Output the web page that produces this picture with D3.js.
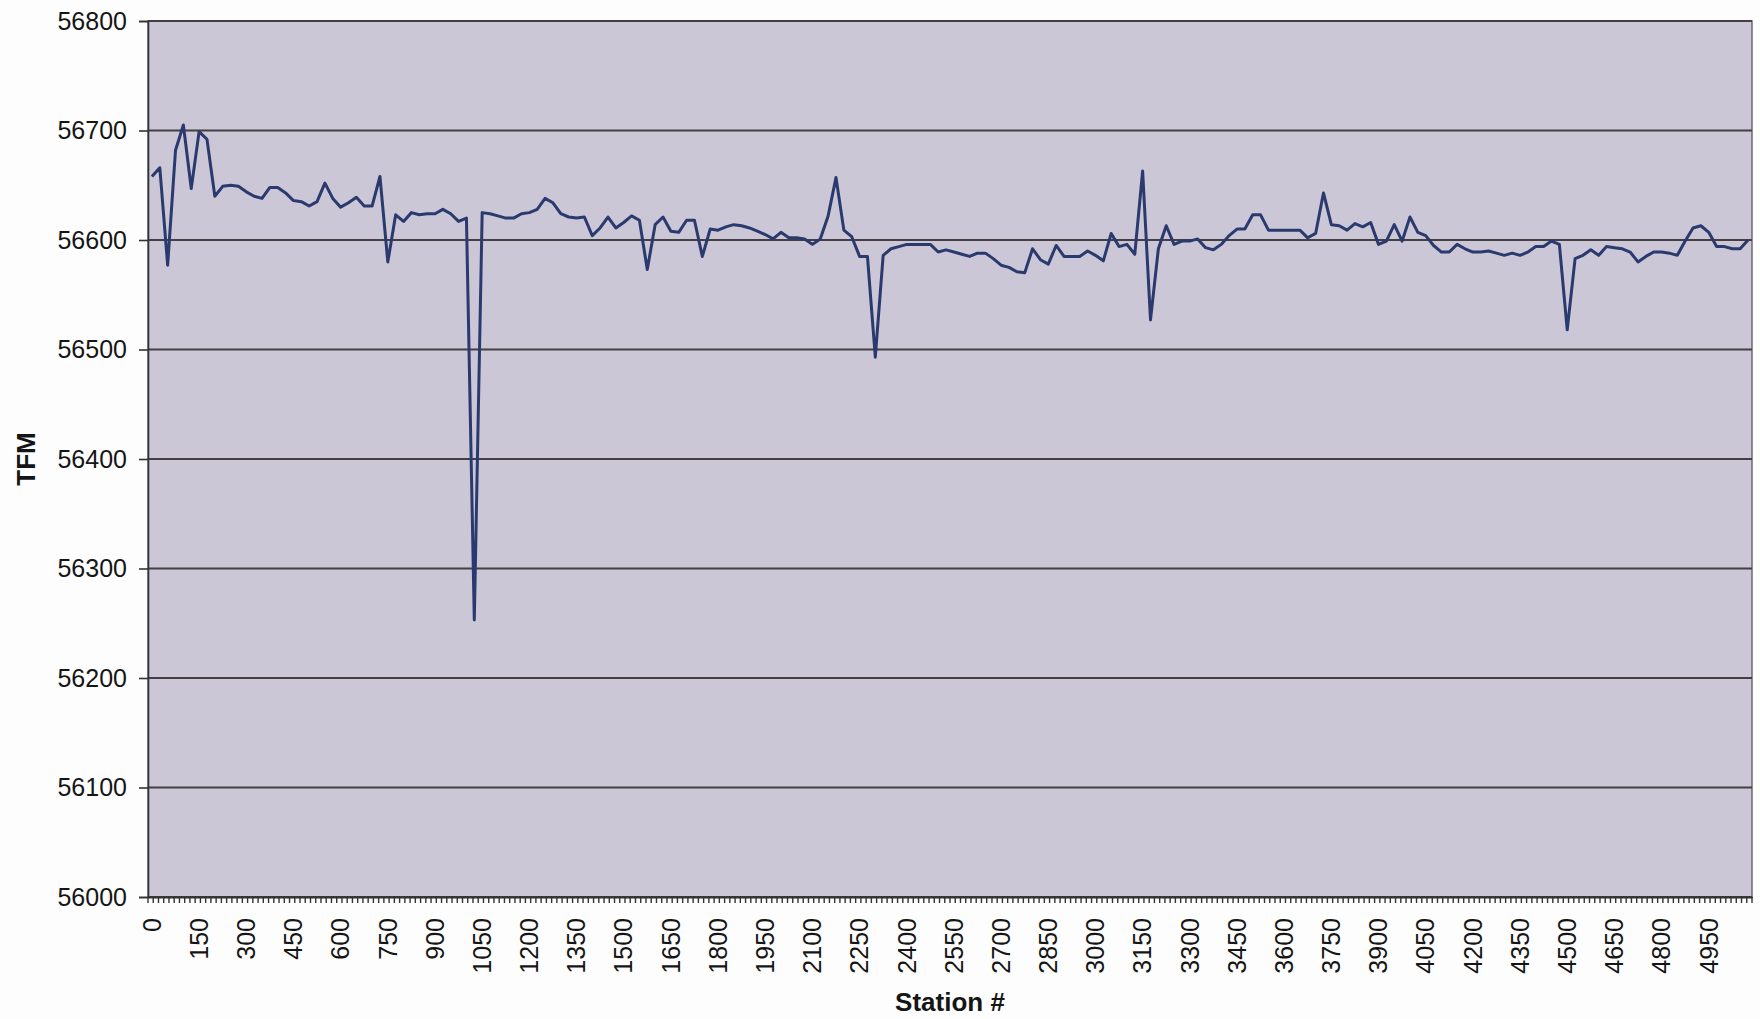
<!DOCTYPE html>
<meta charset="utf-8">
<script src="https://d3js.org/d3.v7.min.js"></script>
<style>
  body { margin: 0; background: #fdfdfd; }
  text { font-family: "Liberation Sans", Arial, sans-serif; fill: #151515; }
</style>
<div id="chart"></div>
<script>

// station numbers (category axis)
var stations = [
  0, 25, 50, 75, 100, 125, 150, 175, 200, 225, 250, 275, 300, 325, 350, 375, 400, 425, 450, 475,
  500, 525, 550, 575, 600, 625, 650, 675, 700, 725, 750, 775, 800, 825, 850, 875, 900, 925, 950, 975,
  1000, 1025, 1050, 1075, 1100, 1125, 1150, 1175, 1200, 1225, 1250, 1275, 1300, 1325, 1350, 1375, 1400, 1425, 1450, 1475,
  1500, 1525, 1550, 1575, 1600, 1625, 1650, 1675, 1700, 1725, 1750, 1775, 1800, 1825, 1850, 1875, 1900, 1925, 1950, 1975,
  2000, 2025, 2050, 2075, 2100, 2125, 2150, 2175, 2200, 2225, 2250, 2275, 2300, 2325, 2350, 2375, 2400, 2425, 2450, 2475,
  2500, 2525, 2550, 2575, 2600, 2625, 2650, 2675, 2700, 2725, 2750, 2775, 2800, 2825, 2850, 2875, 2900, 2925, 2950, 2975,
  3000, 3025, 3050, 3075, 3100, 3125, 3150, 3175, 3200, 3225, 3250, 3275, 3300, 3325, 3350, 3375, 3400, 3425, 3450, 3475,
  3500, 3525, 3550, 3575, 3600, 3625, 3650, 3675, 3700, 3725, 3750, 3775, 3800, 3825, 3850, 3875, 3900, 3925, 3950, 3975,
  4000, 4025, 4050, 4075, 4100, 4125, 4150, 4175, 4200, 4225, 4250, 4275, 4300, 4325, 4350, 4375, 4400, 4425, 4450, 4475,
  4500, 4525, 4550, 4575, 4600, 4625, 4650, 4675, 4700, 4725, 4750, 4775, 4800, 4825, 4850, 4875, 4900, 4925, 4950, 4975,
  5000, 5025, 5050, 5075
];

// total field magnetic readings
var tfm = [
  56658, 56666, 56577, 56682, 56705, 56647, 56699, 56692, 56640, 56649, 56650, 56649, 56644, 56640, 56638, 56648, 56648, 56643, 56636, 56635,
  56631, 56635, 56652, 56638, 56630, 56634, 56639, 56631, 56631, 56658, 56580, 56623, 56617, 56625, 56623, 56624, 56624, 56628, 56624, 56617,
  56620, 56253, 56625, 56624, 56622, 56620, 56620, 56624, 56625, 56628, 56638, 56634, 56624, 56621, 56620, 56621, 56604, 56611, 56621, 56611,
  56616, 56622, 56618, 56573, 56614, 56621, 56608, 56607, 56618, 56618, 56585, 56610, 56609, 56612, 56614, 56613, 56611, 56608, 56605, 56601,
  56607, 56602, 56602, 56601, 56596, 56601, 56622, 56657, 56609, 56603, 56585, 56585, 56493, 56586, 56592, 56594, 56596, 56596, 56596, 56596,
  56589, 56591, 56589, 56587, 56585, 56588, 56588, 56583, 56577, 56575, 56571, 56570, 56592, 56582, 56578, 56595, 56585, 56585, 56585, 56590,
  56586, 56581, 56606, 56594, 56596, 56587, 56663, 56527, 56592, 56613, 56596, 56599, 56599, 56601, 56593, 56591, 56596, 56604, 56610, 56610,
  56623, 56623, 56609, 56609, 56609, 56609, 56609, 56602, 56606, 56643, 56614, 56613, 56609, 56615, 56612, 56616, 56596, 56599, 56614, 56599,
  56621, 56607, 56604, 56595, 56589, 56589, 56596, 56592, 56589, 56589, 56590, 56588, 56586, 56588, 56586, 56589, 56594, 56594, 56599, 56596,
  56518, 56583, 56586, 56591, 56586, 56594, 56593, 56592, 56589, 56580, 56585, 56589, 56589, 56588, 56586, 56599, 56611, 56613, 56607, 56594,
  56594, 56592, 56592, 56600
];

var xLabels = [0, 150, 300, 450, 600, 750, 900, 1050, 1200, 1350, 1500, 1650, 1800, 1950, 2100, 2250, 2400, 2550, 2700, 2850,
  3000, 3150, 3300, 3450, 3600, 3750, 3900, 4050, 4200, 4350, 4500, 4650, 4800, 4950];
var yTicks = [56000, 56100, 56200, 56300, 56400, 56500, 56600, 56700, 56800];

var margin = {top: 21, right: 8, bottom: 122, left: 148},
    width = 1760 - margin.left - margin.right,
    height = 1019 - margin.top - margin.bottom;

var svg = d3.select("#chart")
  .append("svg")
    .attr("width", 1760)
    .attr("height", 1019)
  .append("g")
    .attr("transform", "translate(" + margin.left + "," + margin.top + ")");

var x = d3.scaleBand()
    .domain(stations)
    .range([0, width])
    .padding(0);

var y = d3.scaleLinear()
    .domain([56000, 56800])
    .range([height, 0]);

// plot background
svg.append("rect")
  .attr("width", width)
  .attr("height", height)
  .attr("fill", "#cbc7d7")
  .attr("stroke", "#6a6a70")
  .attr("stroke-width", 1.5);

// gridlines
svg.append("g")
  .selectAll("line")
  .data(yTicks)
  .enter().append("line")
    .attr("x1", 0)
    .attr("x2", width)
    .attr("y1", function(d) { return y(d); })
    .attr("y2", function(d) { return y(d); })
    .attr("stroke", "#433f42")
    .attr("stroke-width", 1.8);

// y axis
var yAxis = svg.append("g")
  .call(d3.axisLeft(y).tickValues(yTicks).tickSize(9).tickPadding(12).tickFormat(d3.format("d")));
yAxis.selectAll("text").style("font-size", "25px");
yAxis.selectAll("line, path").attr("stroke", "#333").attr("stroke-width", 1.6);

// minor tick marks along the x axis (reference shows roughly 9 per label step)
var tickScale = d3.scaleLinear().domain([0, stations.length * 1.5]).range([0, width]);
svg.append("g")
  .attr("transform", "translate(0," + height + ")")
  .selectAll("line")
  .data(d3.range(0, stations.length * 1.5 + 1))
  .enter().append("line")
    .attr("x1", function(d) { return tickScale(d); })
    .attr("x2", function(d) { return tickScale(d); })
    .attr("y1", 0)
    .attr("y2", 6)
    .attr("stroke", "#333")
    .attr("stroke-width", 1.4);

// x axis with rotated labels
var xAxis = svg.append("g")
  .attr("transform", "translate(0," + height + ")")
  .call(d3.axisBottom(x).tickValues(xLabels).tickSize(0).tickSizeOuter(0));
xAxis.select("path").attr("stroke", "#333").attr("stroke-width", 1.8);
xAxis.selectAll("text")
  .style("font-size", "25px")
  .attr("text-anchor", "end")
  .attr("transform", "rotate(-90)")
  .attr("x", -21)
  .attr("y", 0)
  .attr("dy", "0.35em");

// line
var line = d3.line()
  .x(function(d, i) { return x(stations[i]) + x.bandwidth() / 2; })
  .y(function(d) { return y(d); });

svg.append("path")
  .datum(tfm)
  .attr("fill", "none")
  .attr("stroke", "#2b3a6e")
  .attr("stroke-width", 3)
  .attr("stroke-linejoin", "round")
  .attr("d", line);

// axis titles
svg.append("text")
  .attr("x", width / 2)
  .attr("y", height + 114)
  .attr("text-anchor", "middle")
  .style("font-size", "26px")
  .style("font-weight", "bold")
  .text("Station #");

svg.append("text")
  .attr("transform", "rotate(-90)")
  .attr("x", -height / 2)
  .attr("y", -113)
  .attr("text-anchor", "middle")
  .style("font-size", "26px")
  .style("font-weight", "bold")
  .text("TFM");

</script>
